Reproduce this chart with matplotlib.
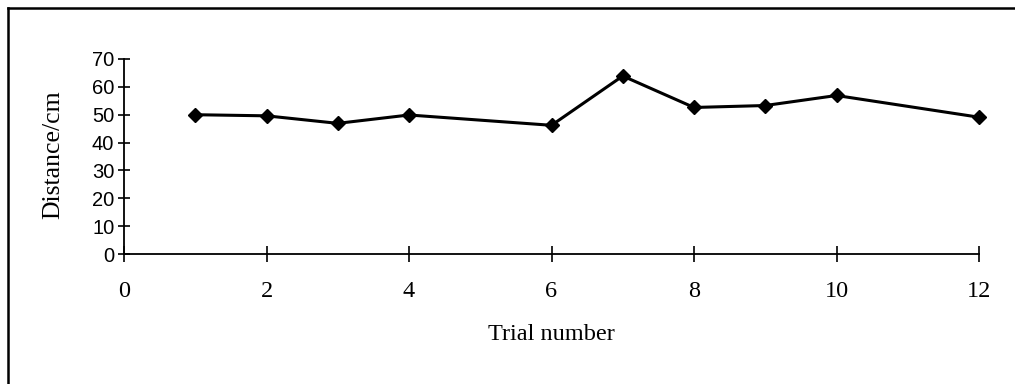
import matplotlib
matplotlib.use("Agg")
import matplotlib.pyplot as plt
from matplotlib.lines import Line2D

# Trial results
trials = [1, 2, 3, 4, 6, 7, 8, 9, 10, 12]
distance_cm = [50.0, 49.6, 46.9, 49.9, 46.2, 63.9, 52.6, 53.3, 56.9, 49.1]

x_ticks = [0, 2, 4, 6, 8, 10, 12]
y_ticks = [0, 10, 20, 30, 40, 50, 60, 70]

fig = plt.figure(figsize=(10.15, 3.84), dpi=100)
ax = fig.add_axes([124 / 1015, 1 - 254 / 384, (979 - 124) / 1015, (254 - 59) / 384])

ax.plot(trials, distance_cm, color="black", linewidth=2.2,
        marker="D", markersize=7, markerfacecolor="black",
        markeredgecolor="black", clip_on=False)

ax.set_xlim(0, 12)
ax.set_ylim(0, 70)
ax.set_xticks(x_ticks)
ax.set_yticks(y_ticks)

for side in ("top", "right"):
    ax.spines[side].set_visible(False)
for side in ("left", "bottom"):
    ax.spines[side].set_linewidth(1.3)
    ax.spines[side].set_color("black")

ax.tick_params(axis="y", direction="inout", length=9, width=1.2, pad=2.5,
               labelsize=14.5)
ax.tick_params(axis="x", direction="inout", length=11.5, width=1.2, pad=14,
               labelsize=17.5)
for lbl in ax.get_yticklabels():
    lbl.set_fontfamily("Liberation Sans")
for lbl in ax.get_xticklabels():
    lbl.set_fontfamily("Liberation Serif")

fig.text(551 / 1015, 1 - 335 / 384, "Trial number", ha="center", va="center",
         fontsize=17.5, family="Liberation Serif")
fig.text(53 / 1015, 1 - 155 / 384, "Distance/cm", ha="center", va="center",
         rotation=90, fontsize=18.5, family="Liberation Serif")

# Frame around the chart area (top and left edges)
fig.add_artist(Line2D([8 / 1015, 8 / 1015], [0, 1 - 8 / 384],
                      transform=fig.transFigure, color="black", linewidth=1.8))
fig.add_artist(Line2D([8 / 1015, 1], [1 - 8 / 384, 1 - 8 / 384],
                      transform=fig.transFigure, color="black", linewidth=1.8))

fig.savefig("out.png", dpi=100, facecolor="white")
